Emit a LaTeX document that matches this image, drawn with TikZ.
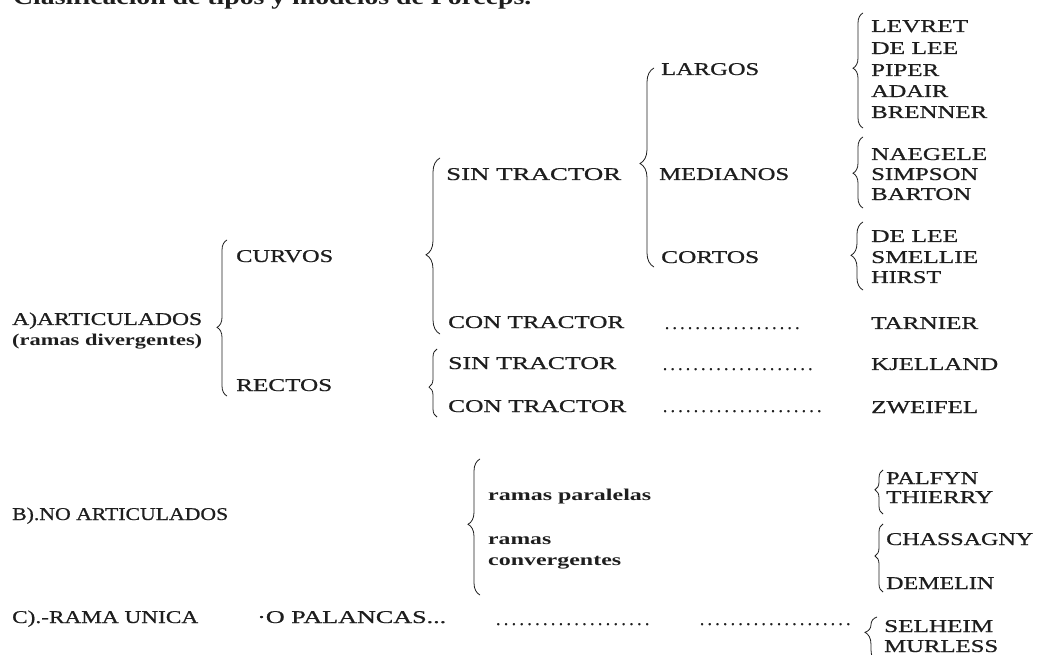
\documentclass[tikz,border=0pt]{standalone}
\usepackage{fontspec}
\setmainfont{Liberation Serif}
\newfontfamily\inkfont{Liberation Serif}[FakeBold=0.7]
\usetikzlibrary{decorations.pathreplacing}
\newcommand{\tw}[2]{\resizebox{#1pt}{\height}{#2}}
\newcommand{\dotrow}[1]{\hbox to #1pt{\xleaders\hbox to 7.6pt{\hss.\hss}\hfill}}
\definecolor{ink}{HTML}{1E1E1E}
\begin{document}
\begin{tikzpicture}[x=1pt,y=-1pt,
  lbl/.style={anchor=base west, inner sep=0pt, text=ink, font=\inkfont\fontsize{18}{21}\selectfont},
  lowl/.style={lbl, font=\fontsize{16.5}{19}\selectfont\bfseries},
  ttl/.style={lbl, font=\fontsize{22}{25}\selectfont\bfseries},
  brc/.style 2 args={draw=ink, line width=0.8pt, decorate, decoration={brace, amplitude=#1, aspect=#2}},
]
\useasboundingbox (0,0) rectangle (1037,655);
\clip (0,0) rectangle (1037,655);
% title
\node[ttl] (title) at (13,5) {\tw{518}{Clasificación de tipos y modelos de Forceps.}};
% level 0
\node[lbl] (artic) at (12,325) {\tw{190}{A)ARTICULADOS}};
\node[lowl] (diverg) at (12,345) {\tw{190}{(ramas divergentes)}};
\node[lbl] (noartic) at (12,520) {\tw{216}{B).NO ARTICULADOS}};
\node[lbl] (unica) at (12,623) {\tw{186}{C).-RAMA UNICA}};
% level 1
\node[lbl] (curvos) at (236,262) {\tw{97}{CURVOS}};
\node[lbl] (rectos) at (236,391) {\tw{96}{RECTOS}};
\node[lbl] (palancas) at (257,623) {\tw{189}{·O PALANCAS...}};
% level 2
\node[lbl] (sint1) at (446,180) {\tw{175}{SIN TRACTOR}};
\node[lbl] (cont1) at (448,328) {\tw{176}{CON TRACTOR}};
\node[lbl] (sint2) at (448,369) {\tw{168}{SIN TRACTOR}};
\node[lbl] (cont2) at (448,412) {\tw{178}{CON TRACTOR}};
\node[lowl] (paral) at (488,500) {\tw{163}{ramas paralelas}};
\node[lowl] (ramas) at (488,544) {\tw{63}{ramas}};
\node[lowl] (converg) at (488,565) {\tw{133}{convergentes}};
% level 3
\node[lbl] (largos) at (661,75) {\tw{98}{LARGOS}};
\node[lbl] (medianos) at (659,180) {\tw{130}{MEDIANOS}};
\node[lbl] (cortos) at (661,263) {\tw{98}{CORTOS}};
% dotted leaders
\node[lbl] (d1) at (663,329) {\dotrow{138}};
\node[lbl] (d2) at (661,370) {\dotrow{153}};
\node[lbl] (d3) at (661,412) {\dotrow{162}};
\node[lbl] (d4) at (494,625) {\dotrow{157}};
\node[lbl] (d5) at (698,625) {\dotrow{154}};
% models
\node[lbl] (levret) at (871,32) {\tw{97}{LEVRET}};
\node[lbl] (delee1) at (871,54) {\tw{87}{DE LEE}};
\node[lbl] (piper) at (871,76) {\tw{68}{PIPER}};
\node[lbl] (adair) at (871,97) {\tw{77}{ADAIR}};
\node[lbl] (brenner) at (871,118) {\tw{116}{BRENNER}};
\node[lbl] (naegele) at (871,160) {\tw{116}{NAEGELE}};
\node[lbl] (simpson) at (871,180) {\tw{107}{SIMPSON}};
\node[lbl] (barton) at (871,200) {\tw{100}{BARTON}};
\node[lbl] (delee2) at (871,242) {\tw{87}{DE LEE}};
\node[lbl] (smellie) at (871,263) {\tw{107}{SMELLIE}};
\node[lbl] (hirst) at (871,283) {\tw{70}{HIRST}};
\node[lbl] (tarnier) at (871,329) {\tw{107}{TARNIER}};
\node[lbl] (kjelland) at (871,370) {\tw{127}{KJELLAND}};
\node[lbl] (zweifel) at (871,413) {\tw{107}{ZWEIFEL}};
\node[lbl] (palfyn) at (886,484) {\tw{92}{PALFYN}};
\node[lbl] (thierry) at (886,503) {\tw{107}{THIERRY}};
\node[lbl] (chassagny) at (886,545) {\tw{147}{CHASSAGNY}};
\node[lbl] (demelin) at (886,589) {\tw{108}{DEMELIN}};
\node[lbl] (selheim) at (884,632) {\tw{109}{SELHEIM}};
\node[lbl] (murless) at (884,652) {\tw{114}{MURLESS}};
% brace end points
\coordinate (bAb) at (227,396);  \coordinate (bAt) at (227,240);
\coordinate (bCb) at (440,334);  \coordinate (bCt) at (440,158);
\coordinate (bSb) at (654,267);  \coordinate (bSt) at (654,68);
\coordinate (bRb) at (437,417);  \coordinate (bRt) at (437,349);
\coordinate (bLb) at (863,128);  \coordinate (bLt) at (863,13);
\coordinate (bMb) at (863,208);  \coordinate (bMt) at (863,137);
\coordinate (bKb) at (863,290);  \coordinate (bKt) at (863,222);
\coordinate (bBb) at (480,595);  \coordinate (bBt) at (480,459);
\coordinate (bPb) at (883,514);  \coordinate (bPt) at (883,470);
\coordinate (bHb) at (883,592);  \coordinate (bHt) at (883,524);
\coordinate (bUb) at (877,662);  \coordinate (bUt) at (877,617);
% braces
\draw[brc={10pt}{0.44}] (bAb) -- (bAt);
\draw[brc={14pt}{0.45}] (bCb) -- (bCt);
\draw[brc={14pt}{0.52}] (bSb) -- (bSt);
\draw[brc={8pt}{0.44}] (bRb) -- (bRt);
\draw[brc={10pt}{0.52}] (bLb) -- (bLt);
\draw[brc={10pt}{0.49}] (bMb) -- (bMt);
\draw[brc={12pt}{0.51}] (bKb) -- (bKt);
\draw[brc={12pt}{0.52}] (bBb) -- (bBt);
\draw[brc={8pt}{0.55}] (bPb) -- (bPt);
\draw[brc={8pt}{0.53}] (bHb) -- (bHt);
\draw[brc={12pt}{0.66}] (bUb) -- (bUt);
\end{tikzpicture}
\end{document}
